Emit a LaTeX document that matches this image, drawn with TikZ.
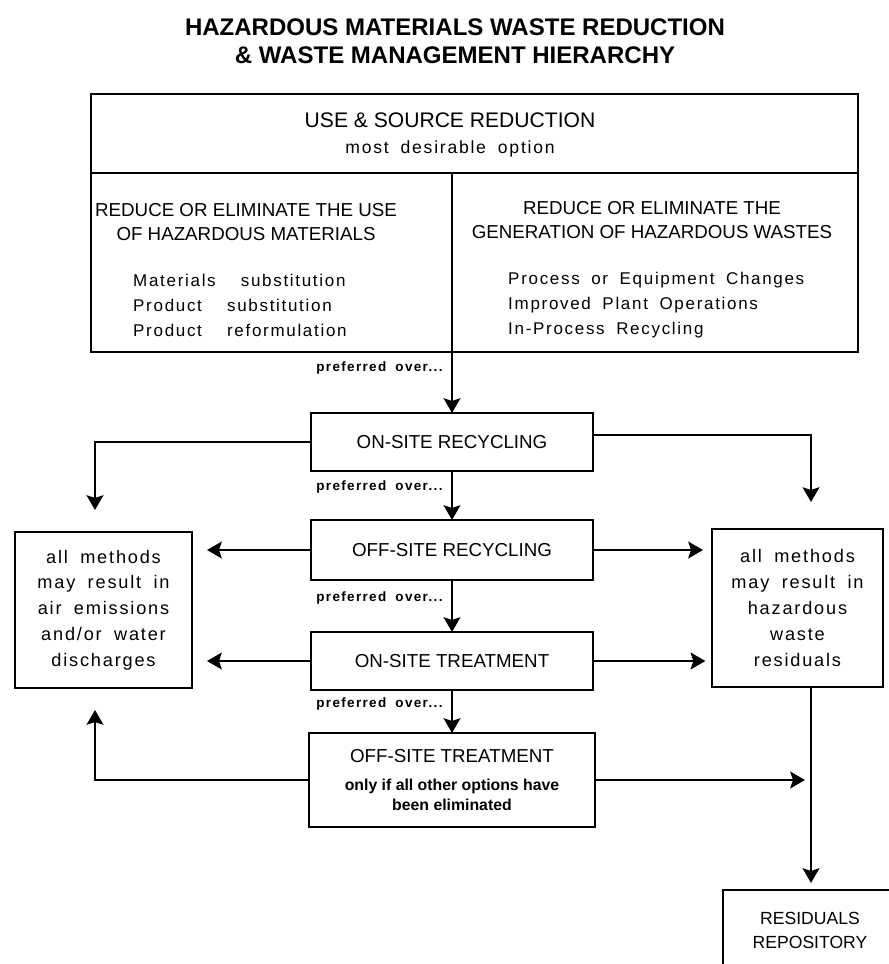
\documentclass[tikz,border=0pt]{standalone}
\usepackage{fontspec}
\setmainfont{Liberation Sans}
\newfontfamily\spacedfont[LetterSpace=10,WordSpace=1.8]{Liberation Sans}
\usetikzlibrary{arrows.meta,positioning}
\newlength{\px}
\setlength{\px}{0.3mm}

\begin{document}
\begin{tikzpicture}[x=0.3mm,y=-0.3mm,
	box/.style={draw,line width=2.5pt,inner sep=0pt,outer sep=0pt},
	flow/.style={box,minimum width=282\px,minimum height=58\px,font=\fontsize{16}{19}\selectfont},
	side/.style={box,align=center,font=\spacedfont\fontsize{15.5}{22}\selectfont},
	head/.style={align=center,inner sep=0pt,font=\fontsize{16}{20.5}\selectfont},
	items/.style={align=left,inner sep=0pt,anchor=west,font=\spacedfont\fontsize{14.5}{21.3}\selectfont},
	pref/.style={left,inner xsep=7pt,font=\spacedfont\bfseries\fontsize{11.5}{13}\selectfont},
	arr/.style={line width=2.2pt,-{Stealth[length=4.4mm,width=5mm,inset=0.8mm]}}]
	\useasboundingbox (0,0) rectangle (889,964);

	\node[align=center,font=\bfseries\fontsize{20.5}{24}\selectfont] (title) at (455,41) {HAZARDOUS MATERIALS WASTE REDUCTION\\\& WASTE MANAGEMENT HIERARCHY};

	% source reduction block
	\node[box,anchor=north west,minimum width=767\px,minimum height=79\px] (source) at (91,94) {};
	\node[box,anchor=north west,minimum width=361\px,minimum height=179\px] (usebox) at (source.south west) {};
	\node[box,anchor=north west,minimum width=406\px,minimum height=179\px] (genbox) at (usebox.north east) {};
	\node[inner sep=0pt,font=\fontsize{18}{20}\selectfont] (sourcehead) at (450,120) {USE \& SOURCE REDUCTION};
	\node[inner sep=0pt,font=\spacedfont\fontsize{15}{18}\selectfont] (sourcesub) at (450,149) {most desirable option};
	\node[head] (usehead) at (246,222) {REDUCE OR ELIMINATE THE USE\\OF HAZARDOUS MATERIALS};
	\node[items] (uselist) at (133,305) {Materials\hspace{0.8em} substitution\\Product\hspace{0.8em} substitution\\Product\hspace{0.8em} reformulation};
	\node[head] (genhead) at (652,220) {REDUCE OR ELIMINATE THE\\GENERATION OF HAZARDOUS WASTES};
	\node[items] (genlist) at (508,305) {Process or Equipment Changes\\Improved Plant Operations\\In-Process Recycling};

	% hierarchy
	\node[flow] (onrec) at (452,442) {ON-SITE RECYCLING};
	\node[flow,minimum height=60\px] (offrec) at (452,550) {OFF-SITE RECYCLING};
	\node[flow] (ontreat) at (452,661) {ON-SITE TREATMENT};
	\node[flow,minimum width=286\px,minimum height=94\px,align=center,font=\fontsize{16}{17}\selectfont] (offtreat) at (452,780) {OFF-SITE TREATMENT\\[7pt]{\bfseries\fontsize{13.5}{17}\selectfont only if all other options have}\\{\bfseries\fontsize{13.5}{17}\selectfont been eliminated}};

	\node[side,minimum width=177\px,minimum height=156\px] (air) at (103.5,610) {all methods\\may result in\\air emissions\\and/or water\\discharges};
	\node[side,minimum width=171\px,minimum height=158\px] (haz) at (797.5,608) {all methods\\may result in\\hazardous\\waste\\residuals};
	\node[box,anchor=north west,minimum width=174\px,minimum height=80\px,align=center,font=\fontsize{15}{20.5}\selectfont] (repo) at (723,890) {RESIDUALS\\REPOSITORY};

	\coordinate (airtop) at (95,510);
	\coordinate (airbot) at (95,710);
	\coordinate (haztop) at (811,502);
	\coordinate (repotop) at (811,883);

	\draw[arr] (usebox.south east) -- node[pref,pos=0.27] {preferred over...} (onrec.north);
	\draw[arr] (onrec) -- node[pref,pos=0.33] {preferred over...} (offrec);
	\draw[arr] (offrec) -- node[pref,pos=0.35] {preferred over...} (ontreat);
	\draw[arr] (ontreat) -- node[pref,pos=0.33] {preferred over...} (offtreat);

	\draw[arr] (onrec.west) -| (airtop);
	\draw[arr] ([yshift=2.1mm]onrec.east) -| (haztop);
	\draw[arr,shorten >=4.5mm] (offrec.west) -- (offrec.west -| air.east);
	\draw[arr,shorten >=2.7mm] (offrec.east) -- (offrec.east -| haz.west);
	\draw[arr,shorten >=4.5mm] (ontreat.west) -- (ontreat.west -| air.east);
	\draw[arr,shorten >=2mm] (ontreat.east) -- (ontreat.east -| haz.west);
	\draw[arr] (offtreat.west) -| (airbot);
	\draw[arr,shorten >=1.8mm] (offtreat.east) -- (offtreat.east -| repotop);
	\draw[arr] (haz.south -| repotop) -- (repotop);
\end{tikzpicture}
\end{document}
